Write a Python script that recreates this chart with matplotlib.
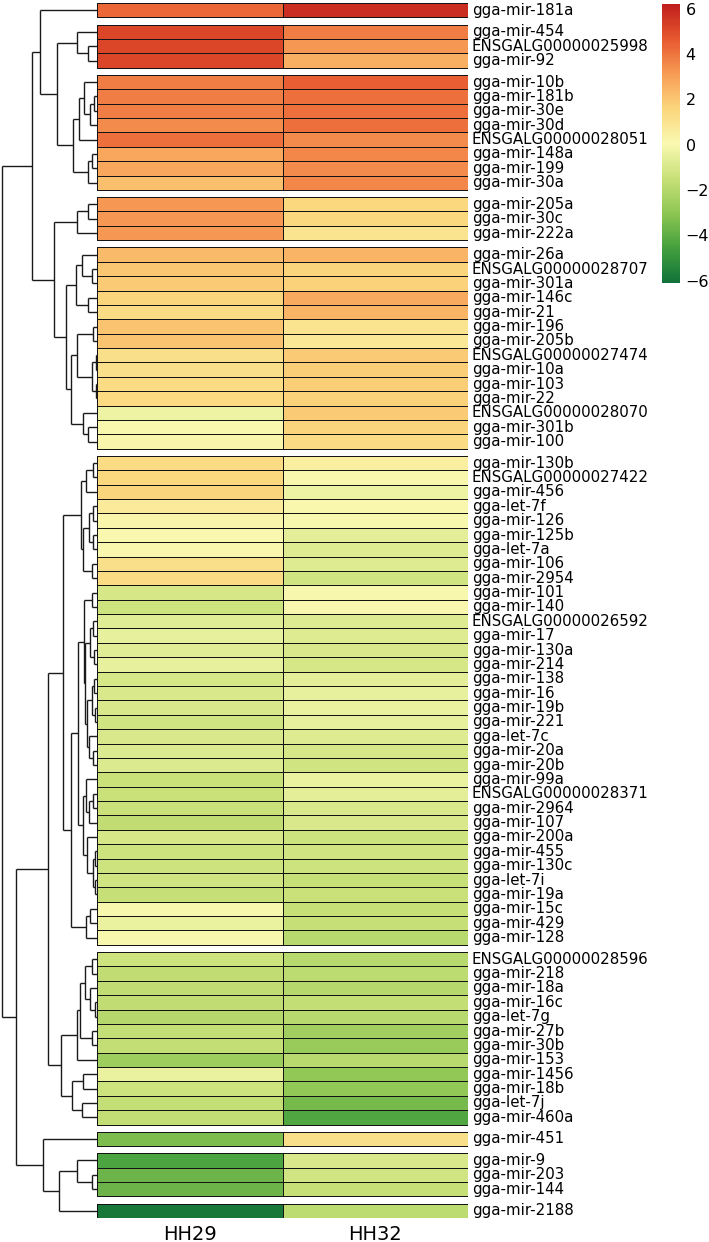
import matplotlib
matplotlib.use("Agg")
import matplotlib.pyplot as plt
import numpy as np
from matplotlib.colors import LinearSegmentedColormap, Normalize

# ---------------- data ----------------
rows = [
    "gga-mir-181a",
    "gga-mir-454", "ENSGALG00000025998", "gga-mir-92",
    "gga-mir-10b", "gga-mir-181b", "gga-mir-30e", "gga-mir-30d", "ENSGALG00000028051",
    "gga-mir-148a", "gga-mir-199", "gga-mir-30a",
    "gga-mir-205a", "gga-mir-30c", "gga-mir-222a",
    "gga-mir-26a", "ENSGALG00000028707", "gga-mir-301a", "gga-mir-146c", "gga-mir-21",
    "gga-mir-196", "gga-mir-205b", "ENSGALG00000027474", "gga-mir-10a", "gga-mir-103",
    "gga-mir-22", "ENSGALG00000028070", "gga-mir-301b", "gga-mir-100",
    "gga-mir-130b", "ENSGALG00000027422", "gga-mir-456", "gga-let-7f", "gga-mir-126",
    "gga-mir-125b", "gga-let-7a", "gga-mir-106", "gga-mir-2954", "gga-mir-101",
    "gga-mir-140", "ENSGALG00000026592", "gga-mir-17", "gga-mir-130a", "gga-mir-214",
    "gga-mir-138", "gga-mir-16", "gga-mir-19b", "gga-mir-221", "gga-let-7c",
    "gga-mir-20a", "gga-mir-20b", "gga-mir-99a", "ENSGALG00000028371", "gga-mir-2964",
    "gga-mir-107", "gga-mir-200a", "gga-mir-455", "gga-mir-130c", "gga-let-7i",
    "gga-mir-19a", "gga-mir-15c", "gga-mir-429", "gga-mir-128",
    "ENSGALG00000028596", "gga-mir-218", "gga-mir-18a", "gga-mir-16c", "gga-let-7g",
    "gga-mir-27b", "gga-mir-30b", "gga-mir-153", "gga-mir-1456", "gga-mir-18b",
    "gga-let-7j", "gga-mir-460a",
    "gga-mir-451",
    "gga-mir-9", "gga-mir-203", "gga-mir-144",
    "gga-mir-2188",
]
columns = ["HH29", "HH32"]
group_sizes = [1, 3, 8, 3, 14, 34, 12, 1, 3, 1]

hh29 = [
    4.3,
    5.1, 5.1, 5.1,
    3.8, 3.8, 3.8, 3.5, 4.1, 2.8, 2.8, 2.2,
    3.2, 3.2, 3.2,
    2.3, 2.0, 1.9, 1.6, 1.3, 2.1, 2.1, 1.2, 1.2, 1.3, 1.4, -0.3, 0.1, 0.2,
    1.3, 1.5, 1.6, 0.7, 0.2, 0.1, 0.1, 1.2, 1.3, -1.1, -1.3, -0.7, -0.5, -0.7, -0.5,
    -1.1, -1.0, -1.0, -1.2, -1.0, -0.9, -0.9, -1.4, -1.4, -1.4, -1.7, -1.1, -1.3,
    -1.3, -1.2, -1.5, 0.0, -0.4, 0.0,
    -1.3, -1.7, -1.7, -1.7, -2.0, -1.6, -1.6, -2.6, -0.4, -1.3, -1.6, -1.6,
    -3.4,
    -4.4, -3.7, -3.7,
    -5.9,
]
hh32 = [
    5.8,
    3.8, 3.2, 2.6,
    4.5, 4.1, 4.1, 4.1, 3.5, 3.6, 3.5, 3.6,
    1.5, 1.5, 1.0,
    2.5, 1.6, 1.7, 2.7, 2.5, 1.0, 0.8, 1.9, 1.8, 1.8, 1.7, 1.9, 1.6, 1.3,
    0.5, 0.1, -0.3, 0.1, 0.0, -0.6, -0.8, -0.8, -1.2, 0.0, 0.1, -0.8, -0.8, -1.0, -1.1,
    -0.6, -0.5, -0.4, -0.5, -0.8, -1.1, -1.2, -0.4, -0.6, -1.0, -1.0, -1.3, -1.2,
    -1.3, -1.5, -1.4, -1.5, -1.5, -1.9,
    -1.9, -1.8, -2.0, -1.6, -1.9, -2.5, -2.7, -1.9, -2.9, -2.9, -3.5, -4.3,
    1.2,
    -1.0, -1.2, -1.5,
    -1.8,
]

# row dendrogram: (left, right, merge height)
tree = (
    (
        ("gga-mir-181a",
         (("gga-mir-454", ("ENSGALG00000025998", "gga-mir-92", 9), 20),
          ((("gga-mir-10b", (("gga-mir-181b", "gga-mir-30e", 3), "gga-mir-30d", 7), 13),
            "ENSGALG00000028051", 18),
           (("gga-mir-148a", "gga-mir-199", 5), "gga-mir-30a", 9), 24), 40), 57),
        ((("gga-mir-205a", "gga-mir-30c", 9), "gga-mir-222a", 20),
         ((("gga-mir-26a", ("ENSGALG00000028707", "gga-mir-301a", 5), 15),
           ("gga-mir-146c", "gga-mir-21", 9), 21),
          ((("gga-mir-196", "gga-mir-205b", 4),
            (("ENSGALG00000027474", "gga-mir-10a", 1), ("gga-mir-103", "gga-mir-22", 1), 5), 20),
           ("ENSGALG00000028070", ("gga-mir-301b", "gga-mir-100", 9), 14), 26), 31), 43),
        65),
    (
        (
            (
                ((("gga-mir-130b", "ENSGALG00000027422", 4), "gga-mir-456", 11),
                 ((("gga-let-7f", "gga-mir-126", 4), ("gga-mir-125b", "gga-let-7a", 4), 8),
                  ("gga-mir-106", "gga-mir-2954", 5), 14), 16),
                (
                    (
                        (("gga-mir-101", "gga-mir-140", 5),
                         ((("ENSGALG00000026592", "gga-mir-17", 4), ("gga-mir-130a", "gga-mir-214", 3), 7),
                          ((("gga-mir-138", "gga-mir-16", 3), ("gga-mir-19b", "gga-mir-221", 2), 5),
                           ("gga-let-7c", ("gga-mir-20a", "gga-mir-20b", 4), 8), 10), 12), 13),
                        (("gga-mir-99a", (("ENSGALG00000028371", "gga-mir-2964", 4), "gga-mir-107", 8), 11),
                         ("gga-mir-200a", (("gga-mir-455", "gga-mir-130c", 2), ("gga-let-7i", "gga-mir-19a", 2), 4), 10), 14),
                        19),
                    (("gga-mir-15c", "gga-mir-429", 7), "gga-mir-128", 11),
                    26),
                34),
            (
                ((((("ENSGALG00000028596", "gga-mir-218", 5),
                     ("gga-mir-18a", ("gga-mir-16c", "gga-let-7g", 2), 7), 12),
                    ("gga-mir-27b", "gga-mir-30b", 5), 17), "gga-mir-153", 20)),
                (("gga-mir-1456", "gga-mir-18b", 14), ("gga-let-7j", "gga-mir-460a", 15), 25),
                36),
            49),
        ("gga-mir-451",
         (("gga-mir-9", ("gga-mir-203", "gga-mir-144", 5), 20), "gga-mir-2188", 38), 54),
        81),
    95)

# ---------------- layout helpers ----------------
W, H = 709, 1242
fig = plt.figure(figsize=(W / 100, H / 100), dpi=100)

def fx(px):
    return px / W

def fy(py):
    return 1 - py / H

hm_left, hm_right, hm_top, hm_bot = 97, 468, 3, 1218
gap = 0.5
n_rows = len(rows)
total = n_rows + gap * (len(group_sizes) - 1)
row_px = (hm_bot - hm_top) / total

row_top = []
g_start = []
pos = 0.0
for gi, gs in enumerate(group_sizes):
    g_start.append(pos)
    for k in range(gs):
        row_top.append(pos + k)
    pos += gs + gap
row_center = {name: t + 0.5 for name, t in zip(rows, row_top)}

colors = ["#10723a", "#44a03d", "#8ec653", "#c8e078", "#f9f9b0",
          "#fbd67c", "#f79c55", "#e7582f", "#c01f1d"]
cmap = LinearSegmentedColormap.from_list("rg", colors)
norm = Normalize(vmin=-6.1, vmax=6.2)

# ---------------- heatmap ----------------
ax = fig.add_axes([fx(hm_left), fy(hm_bot), fx(hm_right - hm_left), (hm_bot - hm_top) / H])
vals = np.column_stack([hh29, hh32])
idx = 0
for gi, gs in enumerate(group_sizes):
    block = vals[idx:idx + gs]
    y_edges = g_start[gi] + np.arange(gs + 1)
    ax.pcolormesh([0, 1, 2], y_edges, block, cmap=cmap, norm=norm,
                  edgecolors="#141414", linewidth=0.7)
    idx += gs
ax.set_xlim(0, 2)
ax.set_ylim(total, 0)
ax.axis("off")

for name in rows:
    ax.text(2.02, row_center[name], name, ha="left", va="center",
            fontsize=10.8, family="DejaVu Sans", color="black")
label_base = total + (1240 - hm_bot) / row_px
for j, c in enumerate(columns):
    ax.text(j + 0.5, label_base, c, ha="center", va="baseline",
            fontsize=14, family="DejaVu Sans", clip_on=False)

# ---------------- dendrogram ----------------
axd = fig.add_axes([0, fy(hm_bot), fx(hm_left), (hm_bot - hm_top) / H])
axd.set_xlim(97, 0)
axd.set_ylim(total, 0)
axd.axis("off")

def draw(node):
    if isinstance(node, str):
        return row_center[node], 0.0
    left, right, h = node
    yl, hl = draw(left)
    yr, hr = draw(right)
    kw = dict(color="#1a1a1a", lw=1.0, solid_capstyle="butt")
    axd.plot([hl, h], [yl, yl], **kw)
    axd.plot([hr, h], [yr, yr], **kw)
    axd.plot([h, h], [yl, yr], **kw)
    return (yl + yr) / 2, h

draw(tree)

# ---------------- colorbar ----------------
cax = fig.add_axes([fx(662), fy(283), fx(18), (283 - 4) / H])
sm = matplotlib.cm.ScalarMappable(norm=norm, cmap=cmap)
cb = fig.colorbar(sm, cax=cax, ticks=[-6, -4, -2, 0, 2, 4, 6])
cb.outline.set_visible(False)
cb.ax.tick_params(length=0, pad=4, labelsize=11.5)

fig.savefig("out.png", dpi=100)
